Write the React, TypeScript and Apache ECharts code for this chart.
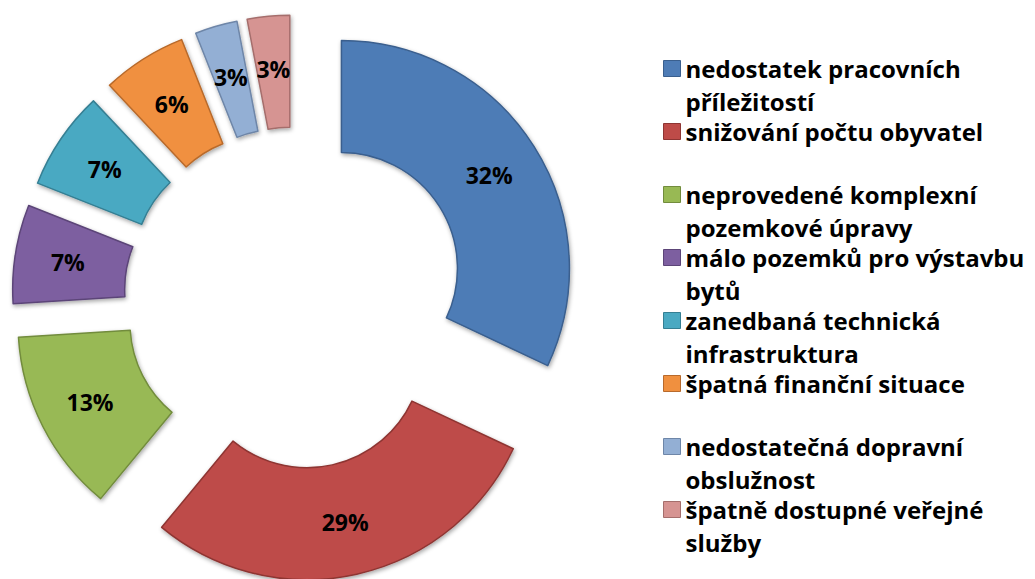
import React, { useEffect, useRef } from "react";
import * as echarts from "echarts";

const categories = [
  "nedostatek pracovních příležitostí",
  "snižování počtu obyvatel",
  "neprovedené komplexní pozemkové úpravy",
  "málo pozemků pro výstavbu bytů",
  "zanedbaná technická infrastruktura",
  "špatná finanční situace",
  "nedostatečná dopravní obslužnost",
  "špatně dostupné veřejné služby",
];

const legendLines = [
  ["nedostatek pracovních", "příležitostí"],
  ["snižování počtu obyvatel", " "],
  ["neprovedené komplexní", "pozemkové úpravy"],
  ["málo pozemků pro výstavbu", "bytů"],
  ["zanedbaná technická", "infrastruktura"],
  ["špatná finanční situace", " "],
  ["nedostatečná dopravní", "obslužnost"],
  ["špatně dostupné veřejné", "služby"],
];

const shares = [32, 29, 13, 7, 7, 6, 3, 3];

const colors = [
  "#4E7CB6",
  "#BE4B48",
  "#98B954",
  "#7D5FA0",
  "#4AA9C2",
  "#F0903F",
  "#93AFD4",
  "#D69492",
];

const borderColors = [
  "#3A5F8E",
  "#8E3533",
  "#728C3D",
  "#5C4578",
  "#357F93",
  "#B86A2C",
  "#6E86A8",
  "#A56E6C",
];

export default function App() {
  const ref = useRef<HTMLDivElement>(null);

  useEffect(() => {
    if (!ref.current) return;
    const chart = echarts.init(ref.current, undefined, { renderer: "svg" });
    const data = categories.map((name, i) => ({
      name,
      value: shares[i],
      selected: true,
      itemStyle: {
        color: colors[i],
        borderColor: borderColors[i],
        borderWidth: 1.5,
        shadowColor: "rgba(0,0,0,0.35)",
        shadowBlur: 4,
        shadowOffsetX: 1,
        shadowOffsetY: 2,
      },
    }));
    chart.setOption({
      animation: false,
      backgroundColor: "#ffffff",
      legend: {
        orient: "vertical",
        left: 663,
        top: 19,
        padding: 0,
        itemGap: -36,
        itemWidth: 17,
        itemHeight: 16,
        selectedMode: false,
        icon: "rect",
        data: categories.map((name, i) => ({
          name,
          itemStyle: { color: colors[i], borderColor: borderColors[i], borderWidth: 1 },
        })),
        formatter: (name: string) => {
          const lines = legendLines[categories.indexOf(name)];
          return " \n" + lines[0] + "\n" + lines[1];
        },
        textStyle: {
          fontFamily: "Open Sans",
          fontWeight: "bold",
          fontSize: 24,
          lineHeight: 33,
          color: "#000000",
        },
      },
      series: [
        {
          type: "pie",
          center: [295, 298],
          radius: [116, 228],
          startAngle: 90,
          clockwise: true,
          selectedMode: "multiple",
          selectedOffset: 55,
          avoidLabelOverlap: false,
          label: {
            show: true,
            position: "inside",
            formatter: "{c}%",
            fontFamily: "Open Sans",
            fontWeight: "bold",
            fontSize: 23,
            color: "#000000",
          },
          labelLayout: { hideOverlap: false },
          labelLine: { show: false },
          emphasis: { disabled: true },
          data,
        },
      ],
    });
    return () => chart.dispose();
  }, []);

  return (
    <div
      ref={ref}
      style={{ position: "absolute", left: 0, top: 0, width: 1035, height: 579 }}
    />
  );
}
